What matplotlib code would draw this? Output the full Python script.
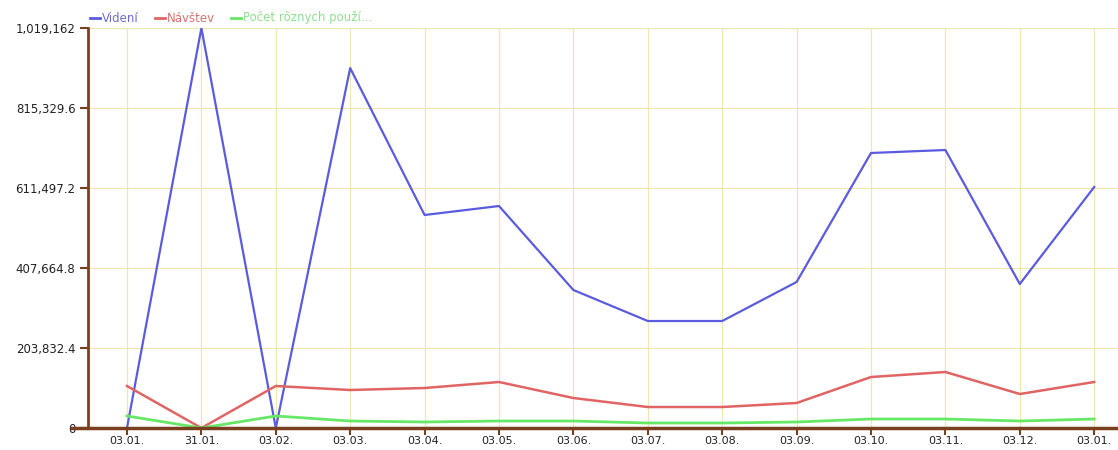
import matplotlib
matplotlib.use("Agg")
import matplotlib.pyplot as plt
from matplotlib.ticker import FuncFormatter, FixedLocator

dates = ["03.01.", "31.01.", "03.02.", "03.03.", "03.04.", "03.05.", "03.06.",
         "03.07.", "03.08.", "03.09.", "03.10.", "03.11.", "03.12.", "03.01."]
videni = [0, 1019162, 0, 917000, 542700, 565600, 351600, 272600, 272600,
          372000, 700700, 708300, 366900, 614000]
navstev = [107000, 0, 107000, 96800, 101900, 117200, 76400, 53500, 53500,
           63700, 129900, 142700, 86600, 117200]
pocet = [30600, 0, 30600, 17800, 15300, 17800, 17800, 12700, 12700,
         15300, 22900, 22900, 17800, 22900]
y_max = 1019162
y_ticks = [y_max * i / 5 for i in range(6)]

axis_color = "#7a3f1f"
grid_color = "#efe6b4"

fig = plt.figure(figsize=(11.18, 4.5), dpi=100)
ax = fig.add_axes([88 / 1118, 22 / 450, 1030 / 1118, 400 / 450])

x = list(range(len(dates)))
ax.plot(x, videni, color="#5b5be0", linewidth=1.6, label="Videní", zorder=3)
ax.plot(x, navstev, color="#e06464", linewidth=1.8, label="Návštev", zorder=3)
ax.plot(x, pocet, color="#66e866", linewidth=2.0, label="Počet rôznych použí...", zorder=3)

ax.set_xlim(-0.524, 13.32)
ax.set_ylim(0, y_max)
ax.set_xticks(x)
ax.set_xticklabels(dates)
ax.yaxis.set_major_locator(FixedLocator(y_ticks))


def fmt(v, pos):
    if abs(v - round(v)) < 1e-6:
        return f"{int(round(v)):,}"
    return f"{v:,.1f}"


ax.yaxis.set_major_formatter(FuncFormatter(fmt))
ax.grid(True, color=grid_color, linewidth=0.9, zorder=0)
ax.set_axisbelow(True)

for side in ("top", "right"):
    ax.spines[side].set_visible(False)
ax.spines["left"].set_color(axis_color)
ax.spines["left"].set_linewidth(2)
ax.spines["bottom"].set_visible(False)
# x axis line runs a bit past the y axis on the left
ax.plot([-0.016, 1.0], [0, 0], transform=ax.transAxes, color=axis_color,
        linewidth=2.5, clip_on=False, zorder=4)

ax.tick_params(axis="x", colors=axis_color, length=5, width=1.5, labelsize=8,
               labelcolor="#222222", pad=1)
ax.tick_params(axis="y", colors=axis_color, length=6, width=1.5, labelsize=8.5,
               labelcolor="#222222", pad=3)

# legend drawn as colored text across the top
leg_items = [("Videní", "#5b5be0", "#6d6dd0"), ("Návštev", "#e06464", "#d87070"),
             ("Počet rôznych použí...", "#66e866", "#8ee08e")]
lx = 90 / 1118
for name, line_c, text_c in leg_items:
    fig.lines.append(plt.Line2D([lx, lx + 10 / 1118], [432 / 450, 432 / 450],
                                color=line_c, linewidth=2, transform=fig.transFigure))
    t = fig.text(lx + 12 / 1118, 432 / 450, name, color=text_c, fontsize=8.5,
                 va="center", ha="left")
    fig.canvas.draw()
    bb = t.get_window_extent()
    lx = (bb.x1 + 16) / 1118

fig.savefig("out.png", dpi=100)
